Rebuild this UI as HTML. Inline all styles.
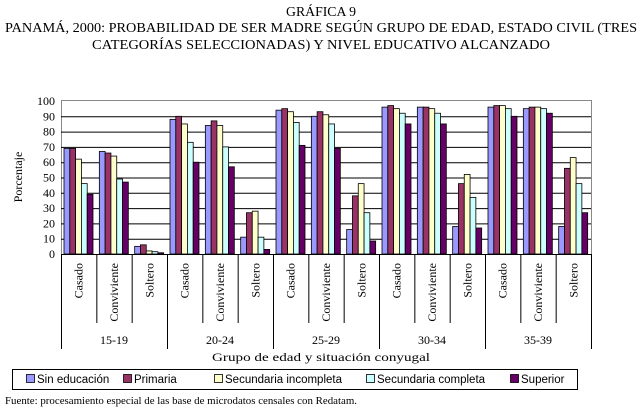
<!DOCTYPE html>
<html><head><meta charset="utf-8"><style>
html,body{margin:0;padding:0;background:#fff}
svg{display:block}
.ser{font-family:"Liberation Serif",serif}
.san{font-family:"Liberation Sans",sans-serif}
</style></head><body>
<svg id="c" width="643" height="411" viewBox="0 0 643 411" xmlns="http://www.w3.org/2000/svg">
<g class="ser" font-size="14" text-anchor="middle" fill="#000">
<text x="321" y="16" textLength="70" lengthAdjust="spacingAndGlyphs">GRÁFICA 9</text>
<text x="321" y="32" textLength="632" lengthAdjust="spacingAndGlyphs">PANAMÁ, 2000: PROBABILIDAD DE SER MADRE SEGÚN GRUPO DE EDAD, ESTADO CIVIL (TRES</text>
<text x="321" y="49" textLength="458" lengthAdjust="spacingAndGlyphs">CATEGORÍAS SELECCIONADAS) Y NIVEL EDUCATIVO ALCANZADO</text>
</g>
<g id="plot"></g>
<text class="ser" font-size="12" x="0" y="0" transform="translate(22,177) rotate(-90)" text-anchor="middle">Porcentaje</text>
<text class="ser" font-size="12" x="321" y="361" text-anchor="middle" textLength="218" lengthAdjust="spacingAndGlyphs">Grupo de edad y situación conyugal</text>
<rect x="12.5" y="369.5" width="565" height="20" fill="none" stroke="#000"/>
<g id="legend"></g>
<text class="ser" font-size="11" x="5" y="404" textLength="352" lengthAdjust="spacingAndGlyphs">Fuente: procesamiento especial de las base de microdatos censales con Redatam.</text>
</svg>
<script>
const ageGroups = ["15-19","20-24","25-29","30-34","35-39"];
const statuses = ["Casado","Conviviente","Soltero"];
const seriesNames = ["Sin educación","Primaria","Secundaria incompleta","Secundaria completa","Superior"];
const sinEducacion = [69,67,5, 88,84,11, 94,90,16, 96,96,18, 96,95,18];
const primaria = [69,66,6, 90,87,27, 95,93,38, 97,96,46, 97,96,56];
const secIncompleta = [62,64,2, 85,84,28, 93,91,46, 95,95,52, 97,96,63];
const secCompleta = [46,49,1.5, 73,70,11, 86,85,27, 92,92,37, 95,95,46];
const superior = [39,47,0.8, 60,57,3, 71,69,8.5, 85,85,17, 90,92,27];
const yTicks = [0,10,20,30,40,50,60,70,80,90,100];

const series = [sinEducacion, primaria, secIncompleta, secCompleta, superior];
const colors = ["#9999ff","#993366","#ffffcc","#ccffff","#660066"];
const NS = "http://www.w3.org/2000/svg";
const L = 61, R = 591, T = 101, B = 254;
const nCat = ageGroups.length * statuses.length;
const cw = (R - L) / nCat;
const y = v => B - (v / 100) * (B - T);
const xCat = i => L + i * cw;
function mk(tag, attrs, parent) {
  const e = document.createElementNS(NS, tag);
  for (const k in attrs) e.setAttribute(k, attrs[k]);
  parent.appendChild(e);
  return e;
}
const plot = document.getElementById("plot");
const frame = mk("rect", {x: L + 0.5, y: T - 0.5, width: R - L, height: B - T + 1, fill: "#fff", stroke: "#888"}, plot);


yTicks.forEach(t => {
  if (t > 0 && t < 100) {
    const g = mk("line", {x1: L, x2: R, y1: y(t) + 0.5, y2: y(t) + 0.5, stroke: "#000", "stroke-width": 1}, plot);
    
    
  }
  const lb = mk("text", {x: 55, y: y(t) + 4, "text-anchor": "end", "font-size": 12, class: "ser"}, plot);
  lb.textContent = t;
  
  
});
const bw = 5.8, off = 3;
for (let i = 0; i < nCat; i++) {
  series.forEach((s, k) => {
    const v = s[i];
    const r = mk("rect", {x: xCat(i) + off + k * bw, y: y(v), width: bw, height: B - y(v), fill: colors[k], stroke: "#000", "stroke-width": 0.8}, plot);
    
    
  });
}
const ax = mk("line", {x1: L, x2: R, y1: B + 0.5, y2: B + 0.5, stroke: "#000"}, plot);


for (let i = 0; i <= nCat; i++) {
  const grp = i % statuses.length === 0;
  const sl = mk("line", {x1: xCat(i) + 0.5, x2: xCat(i) + 0.5, y1: B, y2: grp ? 349 : 323, stroke: "#000"}, plot);
  
  
  if (i < nCat) {
    const cx = xCat(i) + cw / 2 + 4;
    const t = mk("text", {transform: `translate(${cx},263) rotate(-90)`, "text-anchor": "end", "font-size": 12, class: "ser"}, plot);
    t.textContent = statuses[i % statuses.length];
    
    
  }
}
ageGroups.forEach((a, g) => {
  const cx = xCat(g * 3) + cw * 1.5;
  const t = mk("text", {x: cx, y: 344, "text-anchor": "middle", "font-size": 12, class: "ser"}, plot);
  t.textContent = a;
  
  
});
const leg = document.getElementById("legend");
const lx = [26, 123, 214, 366, 510];
seriesNames.forEach((n, k) => {
  const sq = mk("rect", {x: lx[k] + 0.5, y: 374.5, width: 8, height: 8, fill: colors[k], stroke: "#000", "stroke-width": 0.8}, leg);
  
  
  const t = mk("text", {x: lx[k] + 11, y: 383, "font-size": 11.5, class: "san"}, leg);
  t.textContent = n;
  
  
});
</script>
</body></html>
